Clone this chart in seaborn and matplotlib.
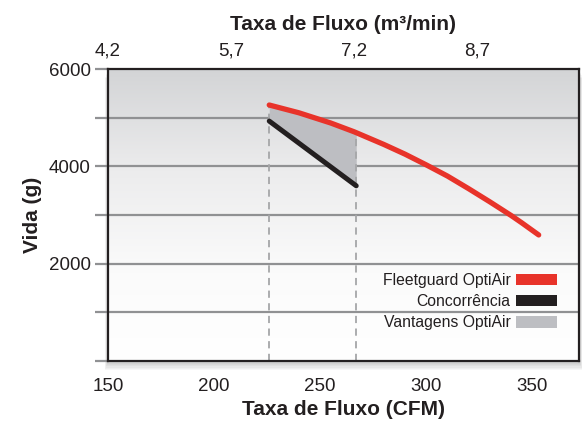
import matplotlib
matplotlib.use("Agg")
import matplotlib.pyplot as plt
from matplotlib.patches import Patch, Rectangle
from matplotlib.colors import LinearSegmentedColormap
import seaborn as sns
import numpy as np
import pandas as pd

# dados
cfm_optiair = [226, 240, 255, 266, 280, 290, 300, 310, 320, 330, 340, 345, 353]
vida_optiair = [5260, 5100, 4890, 4710, 4450, 4250, 4030, 3800, 3540, 3270, 2990, 2840, 2590]
cfm_conc = [226, 267]
vida_conc = [4930, 3600]
cfm_limites = [226, 267]

x_ticks = [150, 200, 250, 300, 350]
y_ticks = [0, 1000, 2000, 3000, 4000, 5000, 6000]
y_labels = ["", "", "2000", "", "4000", "", "6000"]
top_ticks = [4.2, 5.7, 7.2, 8.7]
top_labels = ["4,2", "5,7", "7,2", "8,7"]

sns.set_style("white")
plt.rcParams['font.family'] = ['Liberation Sans', 'DejaVu Sans']

fig = plt.figure(figsize=(5.82, 4.23), dpi=100)
ax = fig.add_axes([108/582, 1 - 361/423, 471/582, 292/423])

# fundo em degrade
cmap = LinearSegmentedColormap.from_list(
    "bg", [(0, "#ffffff"), (0.3, "#fbfbfb"), (0.65, "#ececed"), (1, "#d3d4d6")])
grad = np.linspace(0, 1, 256).reshape(-1, 1)
ax.imshow(grad, aspect="auto", cmap=cmap, origin="lower",
          extent=[150, 372, 0, 6000], zorder=0)

# sombra
for i in range(1, 8):
    fig.patches.append(Rectangle((108/582 - 0.5*i/582, 1 - 361/423 - 1.3*i/423),
                                 (471 + i)/582, 292/423, transform=fig.transFigure,
                                 facecolor="black", alpha=0.03, edgecolor="none", zorder=-1))

df_opt = pd.DataFrame({"cfm": cfm_optiair, "vida": vida_optiair})
df_conc = pd.DataFrame({"cfm": cfm_conc, "vida": vida_conc})

# area de vantagem
xs = np.linspace(cfm_conc[0], cfm_conc[1], 50)
ax.fill_between(xs, np.interp(xs, cfm_conc, vida_conc),
                np.interp(xs, cfm_optiair, vida_optiair),
                color="#bdbec2", zorder=2, linewidth=0)

for xv in cfm_limites:
    top = np.interp(xv, cfm_optiair, vida_optiair)
    ax.vlines(xv, 0, top, colors="#a5a6a8", linestyles=(0, (4, 3)), linewidth=1.3, zorder=2.5)

sns.lineplot(data=df_opt, x="cfm", y="vida", ax=ax, color="#e8332a", linewidth=3.8,
             solid_capstyle="round", solid_joinstyle="round", zorder=4)
sns.lineplot(data=df_conc, x="cfm", y="vida", ax=ax, color="#231f20", linewidth=3.6,
             solid_capstyle="round", zorder=4)

ax.set_xlim(150, 372)
ax.set_ylim(0, 6000)
for yv in y_ticks[1:-1]:
    ax.axhline(yv, color="#909193", linewidth=1.6, zorder=1)

ax.set_yticks(y_ticks)
ax.set_yticklabels(y_labels, fontsize=13.5, color="#231f20")
ax.set_xticks(x_ticks)
ax.set_xticklabels([str(v) for v in x_ticks], fontsize=13.5, color="#231f20")
ax.tick_params(axis="y", length=9.5, width=1.6, color="#909193", pad=3, direction="out", left=True)
ax.tick_params(axis="x", length=0, pad=12)
ax.set_xlabel("Taxa de Fluxo (CFM)", fontsize=15, fontweight="bold", color="#231f20", labelpad=4)
ax.set_ylabel("Vida (g)", fontsize=15, fontweight="bold", color="#231f20", labelpad=5)

for s in ax.spines.values():
    s.set_color("#231f20")
    s.set_linewidth(1.6)
    s.set_zorder(5)

# eixo superior em m3/min
f = lambda c: 4.2 + (c - 150) * 1.5 / 58.0
g = lambda m: 150 + (m - 4.2) * 58.0 / 1.5
sec = ax.secondary_xaxis("top", functions=(f, g))
sec.set_xticks(top_ticks)
sec.set_xticklabels(top_labels, fontsize=13.5, color="#231f20")
sec.tick_params(length=0, pad=7)
sec.spines["top"].set_visible(False)
sec.set_xlabel("Taxa de Fluxo (m³/min)", fontsize=15, fontweight="bold",
               color="#231f20", labelpad=9)

handles = [Patch(facecolor="#e8332a", edgecolor="none", label="Fleetguard OptiAir"),
           Patch(facecolor="#231f20", edgecolor="none", label="Concorrência"),
           Patch(facecolor="#bdbec2", edgecolor="none", label="Vantagens OptiAir")]
leg = ax.legend(handles=handles, loc="lower right", bbox_to_anchor=(0.953, 0.105),
                frameon=False, markerfirst=False, fontsize=11.3, handlelength=2.6,
                handleheight=0.75, handletextpad=0.35, borderpad=0, borderaxespad=0,
                labelspacing=0.4)
for t in leg.get_texts():
    t.set_color("#231f20")
    t.set_ha("right")

fig.savefig("out.png", dpi=100)
